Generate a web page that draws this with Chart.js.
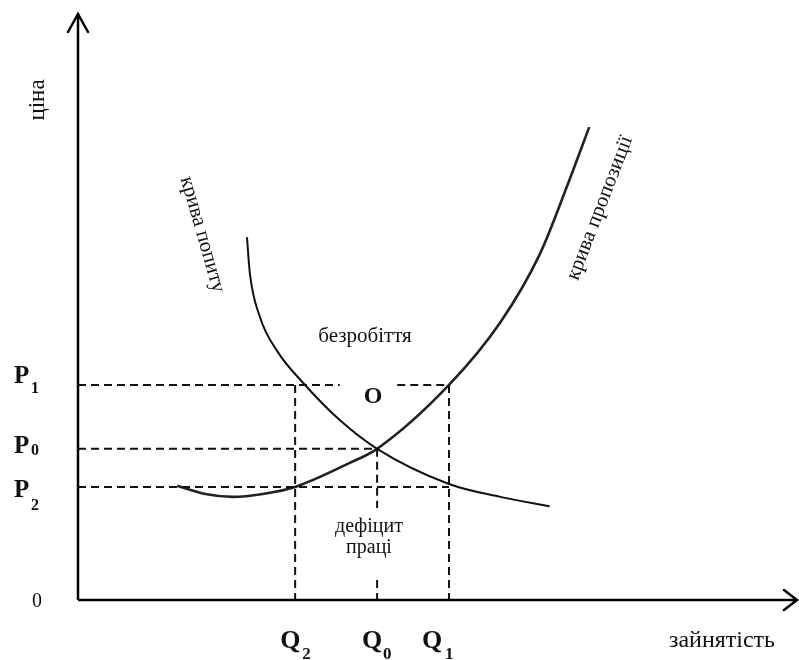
<!DOCTYPE html>
<html>
<head>
<meta charset="utf-8">
<script src="https://cdn.jsdelivr.net/npm/chart.js@4.4.1/dist/chart.umd.min.js"></script>
<style>
  html, body { margin: 0; padding: 0; background: #fff; }
  canvas { display: block; }
</style>
</head>
<body>
<canvas id="labourChart" width="799" height="660"></canvas>
<script>
// Demand curve (employment, price)
const demandQ = [23.5, 23.9, 25.3, 27.8, 31.2, 36.4, 41.6, 51.6, 58.7, 65.6];
const demandP = [61.9, 55.8, 48.3, 42.3, 37.2, 30.7, 25.8, 19.8, 17.6, 16.0];

// Supply curve
const supplyQ = [13.8, 17.7, 21.6, 25.7, 30.2, 37.8, 41.6, 51.6, 58.7, 64.3, 68.2, 71.1];
const supplyP = [19.5, 18.1, 17.6, 18.1, 19.3, 23.4, 25.8, 36.7, 47.3, 59.2, 71.2, 80.7];

// Price levels and quantities
const priceNames = ['P', 'P', 'P'];
const priceSubs = ['1', '0', '2'];
const priceValues = [36.7, 25.8, 19.3];   // P1, P0, P2
const qtyNames = ['Q', 'Q', 'Q'];
const qtySubs = ['2', '0', '1'];
const qtyValues = [30.2, 41.6, 51.6];     // Q2, Q0, Q1

const [P1, P0, P2] = priceValues;
const [Q2, Q0, Q1] = qtyValues;

const serif = "'Liberation Serif', 'DejaVu Serif', serif";
const toPts = (xs, ys) => xs.map((v, i) => ({ x: v, y: ys[i] }));

const dashStyle = {
  borderColor: '#111',
  borderWidth: 2,
  borderDash: [8, 5],
  pointRadius: 0,
  showLine: true,
  spanGaps: false
};

const datasets = [
  // axes
  { data: [{ x: 0, y: 0 }, { x: 0, y: 100 }], borderColor: '#000', borderWidth: 2.5, pointRadius: 0, showLine: true, clip: false },
  { data: [{ x: 0, y: 0 }, { x: 100, y: 0 }], borderColor: '#000', borderWidth: 2.5, pointRadius: 0, showLine: true, clip: false },
  // dashed guide lines (breaks leave room for labels)
  { ...dashStyle, data: [{ x: 0, y: P1 }, { x: 36.4, y: P1 }, { x: 40, y: null }, { x: 44.4, y: P1 }, { x: Q1, y: P1 }] },
  { ...dashStyle, data: [{ x: 0, y: P0 }, { x: Q0, y: P0 }] },
  { ...dashStyle, data: [{ x: 0, y: P2 }, { x: Q1, y: P2 }] },
  { ...dashStyle, data: [{ x: Q2, y: P1 }, { x: Q2, y: 0 }] },
  { ...dashStyle, data: [{ x: Q0, y: P0 }, { x: Q0, y: 15.7 }, { x: Q0, y: null }, { x: Q0, y: 3.4 }, { x: Q0, y: 0 }] },
  { ...dashStyle, data: [{ x: Q1, y: P1 }, { x: Q1, y: 0 }] },
  // curves
  { data: toPts(demandQ, demandP), borderColor: '#111', borderWidth: 2, pointRadius: 0, showLine: true, cubicInterpolationMode: 'monotone' },
  { data: toPts(supplyQ, supplyP), borderColor: '#222', borderWidth: 2.6, pointRadius: 0, showLine: true, cubicInterpolationMode: 'monotone' }
];

function drawText(ctx, str, px, py, font, align, rot) {
  ctx.save();
  ctx.translate(px, py);
  if (rot) ctx.rotate(rot * Math.PI / 180);
  ctx.font = font;
  ctx.textAlign = align || 'left';
  ctx.fillStyle = '#111';
  ctx.fillText(str, 0, 0);
  ctx.restore();
}

// Arrows and text annotations
const annotations = {
  id: 'annotations',
  afterDatasetsDraw(chart) {
    const { ctx, scales: { x, y } } = chart;
    const x0 = x.getPixelForValue(0), y0 = y.getPixelForValue(0);
    const xEnd = x.getPixelForValue(100), yEnd = y.getPixelForValue(100);

    ctx.save();
    ctx.strokeStyle = '#000';
    ctx.lineWidth = 2.5;
    ctx.lineCap = 'round';
    ctx.beginPath();
    ctx.moveTo(x0 - 10, yEnd + 18);
    ctx.lineTo(x0, yEnd);
    ctx.lineTo(x0 + 10, yEnd + 18);
    ctx.moveTo(xEnd - 13, y0 - 10);
    ctx.lineTo(xEnd, y0);
    ctx.lineTo(xEnd - 13, y0 + 10);
    ctx.stroke();
    ctx.restore();

    // price labels on the left
    const pMain = [-2, 4, 10];
    const pSub = [8, 6, 23];
    priceValues.forEach((v, i) => {
      const py = y.getPixelForValue(v);
      drawText(ctx, priceNames[i], 14, py + pMain[i], 'bold 25px ' + serif);
      drawText(ctx, priceSubs[i], 31, py + pSub[i], 'bold 16px ' + serif);
    });

    // quantity labels under the axis
    const qMain = [-15, -15, -27];
    const qSub = [7, 6, -4];
    qtyValues.forEach((v, i) => {
      const px = x.getPixelForValue(v);
      drawText(ctx, qtyNames[i], px + qMain[i], 648, 'bold 26px ' + serif);
      drawText(ctx, qtySubs[i], px + qSub[i], 659, 'bold 17px ' + serif);
    });

    drawText(ctx, '0', 32, 607, '20px ' + serif);
    drawText(ctx, 'ціна', 44, 100, '23px ' + serif, 'center', -90);
    drawText(ctx, 'зайнятість', 722, 647, '24px ' + serif, 'center');
    drawText(ctx, 'крива попиту', 197, 236, '21px ' + serif, 'center', 74);
    drawText(ctx, 'крива пропозиції', 605, 210, '21px ' + serif, 'center', -69);
    drawText(ctx, 'безробіття', 365, 342, '21px ' + serif, 'center');
    drawText(ctx, 'O', 373, 403, 'bold 24px ' + serif, 'center');
    drawText(ctx, 'дефіцит', 369, 532, '20px ' + serif, 'center');
    drawText(ctx, 'праці', 369, 553, '20px ' + serif, 'center');
  }
};

new Chart(document.getElementById('labourChart'), {
  type: 'scatter',
  data: { datasets },
  options: {
    responsive: false,
    animation: false,
    layout: { padding: { left: 78, right: 2, top: 14, bottom: 60 } },
    plugins: {
      legend: { display: false },
      tooltip: { enabled: false }
    },
    scales: {
      x: { type: 'linear', min: 0, max: 100, display: false },
      y: { type: 'linear', min: 0, max: 100, display: false }
    }
  },
  plugins: [annotations]
});
</script>
</body>
</html>
